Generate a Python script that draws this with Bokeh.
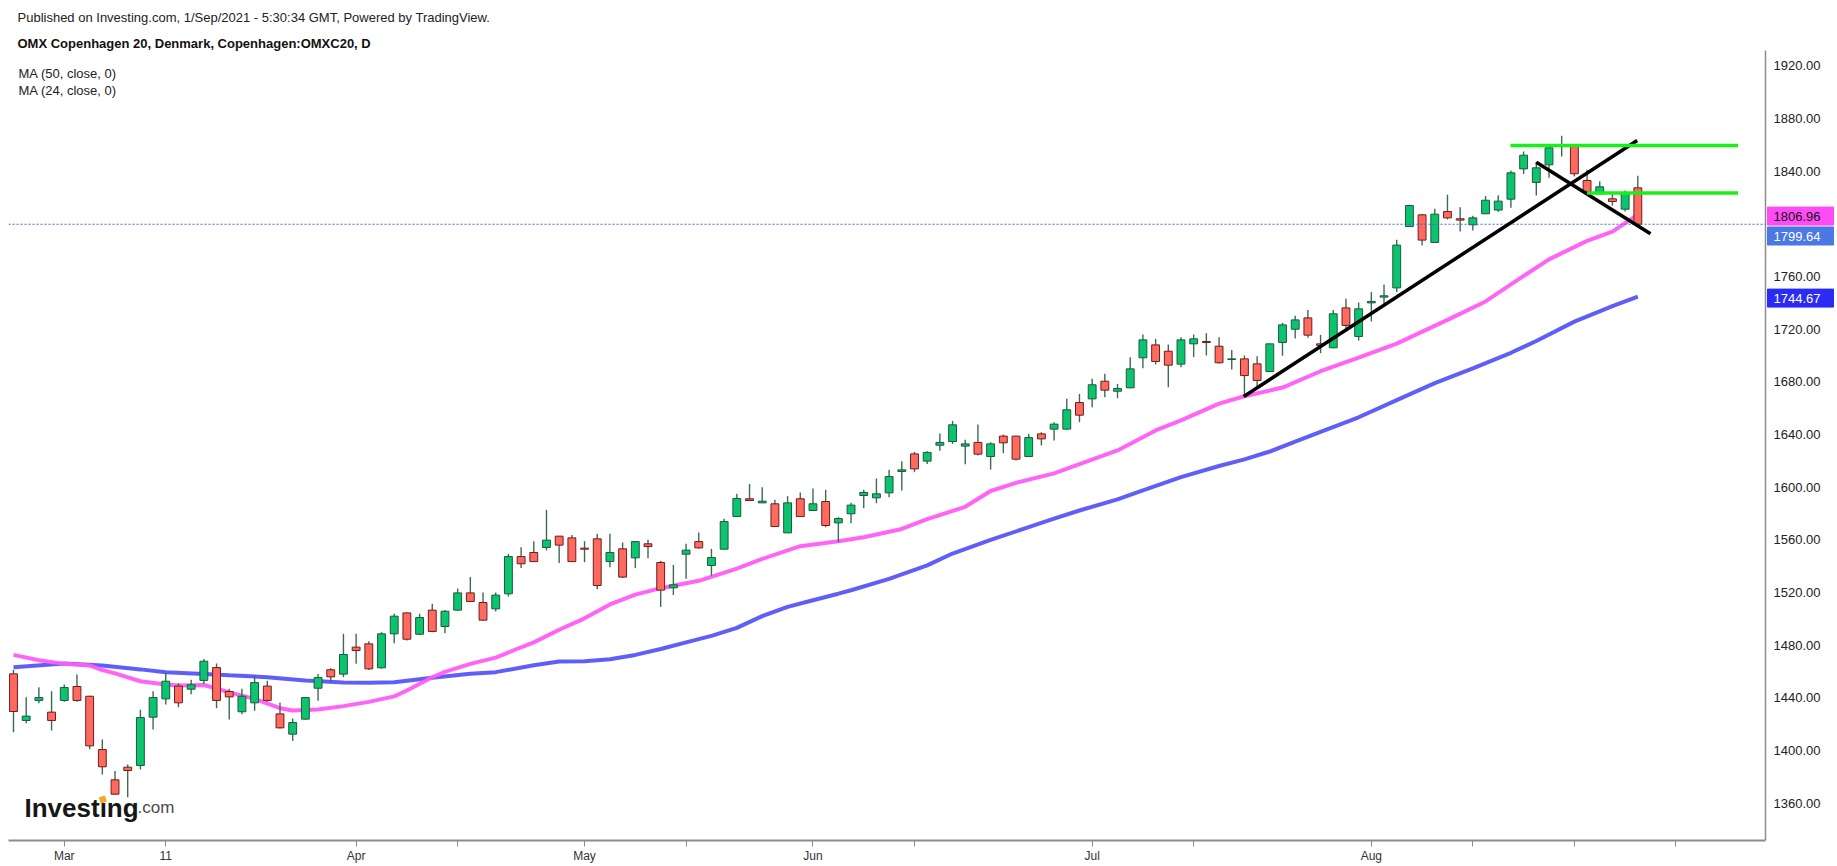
from bokeh.plotting import figure
from bokeh.models import Range1d, FixedTicker, NumeralTickFormatter, ColumnDataSource
from bokeh.core.properties import value
from bokeh.embed import file_html
from bokeh.resources import INLINE

# ---------------- data ----------------
opens = [1458.1, 1422.7, 1437.9, 1429.0, 1437.9, 1448.5, 1441.1, 1400.6, 1377.6, 1387.2,
         1388.5, 1425.2, 1439.1, 1448.8, 1446.5, 1453.1, 1462.9, 1444.7, 1429.3, 1436.1,
         1448.8, 1427.7, 1412.3, 1423.7, 1447.2, 1461.2, 1457.9, 1478.4, 1480.9, 1462.7,
         1488.5, 1504.4, 1488.2, 1506.5, 1494.1, 1506.5, 1519.6, 1512.3, 1507.5, 1518.9,
         1547.2, 1550.3, 1554.1, 1562.7, 1561.4, 1553.6, 1560.7, 1543.4, 1553.1, 1546.2,
         1556.9, 1542.7, 1523.5, 1549.0, 1558.6, 1540.4, 1552.8, 1577.6, 1591.1, 1588.0,
         1587.3, 1565.2, 1591.1, 1582.2, 1589.0, 1572.8, 1579.7, 1593.6, 1591.8, 1595.6,
         1611.8, 1625.2, 1619.7, 1631.8, 1634.6, 1631.1, 1633.9, 1623.2, 1638.7, 1638.7,
         1623.2, 1640.4, 1644.0, 1644.0, 1664.2, 1667.0, 1680.4, 1672.8, 1675.4, 1698.2,
         1708.0, 1703.2, 1693.4, 1708.8, 1710.6, 1707.0, 1696.9, 1697.4, 1693.6, 1687.8,
         1709.8, 1719.9, 1728.5, 1708.8, 1705.8, 1736.1, 1714.4, 1739.9, 1744.3, 1751.3,
         1797.9, 1806.8, 1785.8, 1809.3, 1803.8, 1799.2, 1807.6, 1810.4, 1818.7, 1841.7,
         1831.4, 1844.8, 1859.2, 1859.7, 1832.9, 1822.8, 1819.0, 1811.1, 1827.3]
highs = [1461.2, 1440.4, 1448.0, 1444.9, 1450.0, 1457.6, 1441.5, 1408.2, 1384.4, 1389.2,
         1430.8, 1444.9, 1459.1, 1451.0, 1453.6, 1469.3, 1466.0, 1446.7, 1446.7, 1456.6,
         1452.8, 1436.3, 1424.2, 1440.5, 1457.9, 1462.4, 1488.5, 1488.5, 1482.9, 1489.8,
         1503.7, 1504.8, 1503.7, 1511.3, 1506.7, 1522.9, 1531.6, 1519.9, 1519.9, 1549.3,
         1554.3, 1558.9, 1582.7, 1562.9, 1563.5, 1558.9, 1564.5, 1564.5, 1557.9, 1558.9,
         1559.9, 1543.9, 1540.9, 1556.9, 1565.5, 1553.1, 1575.9, 1594.9, 1602.4, 1599.9,
         1590.3, 1593.1, 1595.9, 1598.9, 1597.9, 1577.1, 1588.0, 1597.9, 1606.5, 1613.1,
         1619.7, 1626.8, 1627.3, 1640.7, 1650.3, 1635.9, 1647.5, 1634.1, 1639.9, 1638.9,
         1640.4, 1641.7, 1649.3, 1667.0, 1670.8, 1682.2, 1686.0, 1678.4, 1698.7, 1715.9,
         1712.6, 1708.3, 1713.9, 1715.9, 1716.9, 1713.9, 1704.2, 1700.0, 1699.4, 1709.0,
         1724.8, 1730.1, 1734.6, 1715.6, 1734.6, 1743.0, 1740.2, 1748.1, 1753.9, 1787.8,
         1814.4, 1807.6, 1811.4, 1822.0, 1812.6, 1806.1, 1821.2, 1821.7, 1840.5, 1854.9,
         1846.8, 1858.7, 1866.8, 1860.5, 1841.0, 1832.4, 1823.5, 1825.3, 1836.4]
lows = [1413.8, 1420.6, 1435.8, 1415.1, 1437.0, 1437.0, 1400.9, 1381.6, 1366.0, 1364.4,
        1385.4, 1415.8, 1434.8, 1432.8, 1442.7, 1450.5, 1432.0, 1423.4, 1427.5, 1430.0,
        1437.0, 1416.5, 1407.2, 1423.3, 1437.6, 1451.8, 1455.6, 1465.7, 1461.0, 1462.0,
        1481.4, 1483.4, 1487.8, 1489.8, 1489.0, 1506.0, 1512.8, 1498.5, 1505.5, 1516.9,
        1538.6, 1543.0, 1551.8, 1542.4, 1543.0, 1542.9, 1522.4, 1539.1, 1531.0, 1538.4,
        1546.0, 1509.0, 1518.0, 1530.3, 1553.1, 1532.8, 1552.5, 1577.3, 1589.5, 1587.8,
        1569.8, 1565.0, 1577.3, 1582.0, 1569.5, 1558.1, 1572.6, 1584.0, 1587.8, 1592.3,
        1597.4, 1611.3, 1617.6, 1627.5, 1632.8, 1617.4, 1624.0, 1613.3, 1625.7, 1620.2,
        1623.0, 1631.6, 1635.4, 1643.8, 1649.3, 1660.7, 1668.3, 1667.5, 1675.0, 1690.3,
        1693.1, 1675.9, 1691.1, 1698.7, 1700.0, 1693.9, 1689.3, 1668.3, 1675.4, 1687.5,
        1699.7, 1712.8, 1713.4, 1701.7, 1705.5, 1717.7, 1711.3, 1725.8, 1739.2, 1748.1,
        1797.7, 1783.5, 1785.5, 1803.3, 1794.1, 1794.9, 1807.4, 1809.1, 1812.1, 1837.9,
        1821.5, 1834.9, 1851.1, 1835.9, 1823.3, 1822.5, 1813.9, 1809.3, 1799.6]
closes = [1429.5, 1426.0, 1440.1, 1422.7, 1447.7, 1437.9, 1403.4, 1387.5, 1366.7, 1384.7,
          1424.9, 1440.1, 1452.5, 1436.1, 1449.8, 1467.7, 1437.9, 1440.6, 1441.1, 1451.5,
          1437.9, 1417.1, 1421.1, 1440.1, 1455.3, 1455.8, 1472.8, 1475.8, 1461.9, 1488.5,
          1501.9, 1484.4, 1500.9, 1490.3, 1505.7, 1519.6, 1513.1, 1498.9, 1517.9, 1547.2,
          1541.7, 1543.4, 1559.7, 1555.9, 1543.4, 1552.8, 1525.2, 1550.3, 1531.6, 1558.6,
          1554.8, 1521.7, 1525.7, 1552.1, 1553.8, 1546.5, 1573.8, 1591.3, 1589.8, 1589.3,
          1570.0, 1588.0, 1577.6, 1587.3, 1570.8, 1576.1, 1586.3, 1595.9, 1594.9, 1608.0,
          1613.1, 1613.8, 1626.3, 1633.9, 1647.3, 1632.8, 1625.0, 1632.8, 1633.6, 1621.2,
          1637.6, 1636.6, 1647.8, 1658.7, 1654.6, 1677.7, 1673.6, 1674.9, 1689.8, 1711.8,
          1695.4, 1692.6, 1711.8, 1712.6, 1709.8, 1694.4, 1697.4, 1684.7, 1681.0, 1708.8,
          1723.2, 1727.0, 1715.4, 1707.6, 1731.6, 1722.8, 1735.4, 1741.0, 1745.3, 1783.8,
          1813.9, 1787.6, 1807.3, 1804.5, 1802.8, 1804.5, 1817.9, 1817.2, 1838.7, 1852.1,
          1842.5, 1857.7, 1860.0, 1838.0, 1824.3, 1828.1, 1816.9, 1823.5, 1799.64]

ma50_bar = [0, 4, 7, 10, 12, 15, 17, 20, 23, 26, 28, 30, 33, 36, 38, 41, 43, 45, 47, 49,
            51, 53, 55, 57, 59, 61, 63, 65, 66, 69, 72, 74, 77, 80, 82, 84, 87, 89, 92, 95,
            97, 99, 101, 103, 106, 109, 112, 115, 118, 120, 123, 126, 128]
ma50_val = [1463.2, 1466.0, 1464.4, 1461.5, 1459.4, 1458.0, 1457.0, 1455.6, 1453.0, 1451.5,
            1451.3, 1451.8, 1455.1, 1458.1, 1459.4, 1464.6, 1467.5, 1467.6, 1469.2, 1472.5,
            1477.0, 1482.0, 1487.0, 1493.0, 1502.0, 1509.0, 1514.0, 1519.0, 1521.6, 1530.3,
            1540.5, 1549.5, 1559.9, 1569.5, 1576.0, 1582.2, 1590.6, 1597.5, 1607.5, 1616.0,
            1621.0, 1627.0, 1634.5, 1642.0, 1653.0, 1666.0, 1679.0, 1690.2, 1702.0, 1711.0,
            1725.7, 1737.5, 1744.67]
ma24_bar = [0, 2, 4, 6, 7, 8, 10, 12, 13, 15, 16, 17, 19, 21, 22, 24, 26, 28, 30, 31,
            33, 34, 36, 38, 40, 41, 43, 45, 47, 49, 51, 54, 57, 59, 62, 65, 67, 70, 72, 75,
            77, 79, 82, 84, 87, 90, 92, 95, 97, 100, 103, 106, 109, 113, 116, 118, 121, 124,
            126, 128]
ma24_val = [1472.5, 1468.5, 1465.7, 1464.5, 1461.0, 1458.5, 1452.5, 1450.0, 1449.3, 1449.6,
            1447.0, 1444.0, 1439.1, 1432.0, 1430.3, 1431.0, 1433.6, 1436.8, 1441.0, 1445.5,
            1455.5, 1459.6, 1465.7, 1470.4, 1478.3, 1482.0, 1491.6, 1500.3, 1510.8, 1518.3,
            1523.2, 1528.8, 1538.0, 1545.4, 1555.1, 1558.8, 1561.9, 1568.2, 1575.7, 1585.0,
            1597.0, 1603.2, 1610.4, 1617.5, 1627.8, 1643.0, 1650.7, 1663.4, 1669.0, 1675.6,
            1688.0, 1698.4, 1709.0, 1727.0, 1741.0, 1754.0, 1773.0, 1787.0, 1794.0, 1806.96]

# drawings (trend lines / levels): start bar, start price, end bar, end price
black_lines = [(96.95, 1668.8, 127.95, 1863.3), (120.0, 1846.8, 129.0, 1792.4)]
green_levels = [(117.96, 135.9, 1859.5), (124.0, 135.9, 1823.3)]

x_tick_pos = [4, 12, 27, 35, 45, 53, 63, 71, 85, 93, 107, 115, 123, 131]
x_tick_labels = ["Mar", "11", "Apr", "", "May", "", "Jun", "", "Jul", "", "Aug", "", "", ""]
y_ticks = [1360, 1400, 1440, 1480, 1520, 1560, 1600, 1640, 1680, 1720, 1760, 1840, 1880, 1920]

last_close = 1799.64
ma24_last = 1806.96
ma50_last = 1744.67

# ---------------- geometry (page pixels) ----------------
LEFT, TOP = 8, 8
FW, FH = 1826, 832
PXB = 12.69      # pixels per bar
PXP = 1.3164     # pixels per index point
X0 = -0.394
X1 = X0 + FW / PXB
Y1 = 1360 + (802.5 - TOP) / PXP
Y0 = Y1 - FH / PXP
SCALE_X = 1765   # page x of the price-scale border


def sx(px):
    return X0 + (px - LEFT) / PXB


def sy(py):
    return Y1 - (py - TOP) / PXP


FONT = "Liberation Sans"

p = figure(frame_width=FW, frame_height=FH, x_range=Range1d(X0, X1), y_range=Range1d(Y0, Y1),
           y_axis_location="right", output_backend="svg", toolbar_location=None,
           min_border_left=LEFT, min_border_top=TOP, min_border_right=0, min_border_bottom=24,
           background_fill_color="white", border_fill_color="white", outline_line_color=None)
p.grid.visible = False

# x axis (time scale), ends at the price scale border
p.xaxis.ticker = FixedTicker(ticks=x_tick_pos)
p.xaxis.major_label_overrides = {t: l for t, l in zip(x_tick_pos, x_tick_labels)}
p.xaxis.bounds = (X0, sx(SCALE_X))
p.xaxis.minor_tick_line_color = None
p.xaxis.axis_line_color = "#8c8c8c"
p.xaxis.axis_line_width = 2
p.xaxis.major_tick_line_color = "#8c8c8c"
p.xaxis.major_tick_out = 6
p.xaxis.major_tick_in = 0
p.xaxis.major_label_standoff = 2
p.xaxis.major_label_text_font = FONT
p.xaxis.major_label_text_font_size = "12px"
p.xaxis.major_label_text_color = "#333333"

# y axis (price scale): labels drawn back inside the scale area
p.yaxis.ticker = FixedTicker(ticks=y_ticks)
p.yaxis.formatter = NumeralTickFormatter(format="0.00")
p.yaxis.minor_tick_line_color = None
p.yaxis.axis_line_color = None
p.yaxis.major_tick_line_color = None
p.yaxis.major_tick_out = 0
p.yaxis.major_tick_in = 0
p.yaxis.major_label_standoff = (SCALE_X + 8) - (LEFT + FW)
p.yaxis.major_label_text_font = FONT
p.yaxis.major_label_text_font_size = "13px"
p.yaxis.major_label_text_color = "#222222"

# price scale border line
p.segment(x0=[sx(SCALE_X)], y0=[sy(50)], x1=[sx(SCALE_X)], y1=[Y0], line_color="#8c8c8c",
          line_width=1.5)

# moving averages
p.line(ma50_bar, ma50_val, line_color="#5656f8", line_width=4, line_alpha=0.95)
p.line(ma24_bar, ma24_val, line_color="#ff5cf6", line_width=4, line_alpha=0.95)

# candles
n = len(closes)
up = [c >= o for o, c in zip(opens, closes)]
src = ColumnDataSource(dict(
    x=list(range(n)),
    top=[max(o, c) for o, c in zip(opens, closes)],
    bot=[min(o, c) for o, c in zip(opens, closes)],
    high=highs, low=lows,
    fill=["#0bc46f" if u else "#ff6a5f" for u in up],
    edge=["#1f5a3b" if u else "#6e1d1d" for u in up],
))
p.segment(x0="x", y0="low", x1="x", y1="high", source=src, line_color="#3c6b54", line_width=1.4)
p.vbar(x="x", width=0.62, top="top", bottom="bot", fill_color="fill", line_color="edge",
       line_width=1, source=src)

# last price dotted line (up to the price scale)
p.line([X0, sx(SCALE_X)], [last_close, last_close], line_color="#3d63e6", line_dash="2 2",
       line_width=1)

# drawings
for x0, y0, x1, y1 in black_lines:
    p.line([x0, x1], [y0, y1], line_color="black", line_width=3.5)
for x0, x1, yv in green_levels:
    p.line([x0, x1], [yv, yv], line_color="#19f019", line_width=3.5)

# header texts
p.text(x=[sx(17)], y=[sy(16.5)],
       text=["Published on Investing.com, 1/Sep/2021 - 5:30:34 GMT, Powered by TradingView."],
       text_font=value(FONT), text_font_size=value("13px"), text_color="#222222",
       text_baseline="middle", text_align="left")
p.text(x=[sx(17)], y=[sy(43)], text=["OMX Copenhagen 20, Denmark, Copenhagen:OMXC20, D"],
       text_font=value(FONT), text_font_size=value("13px"), text_font_style="bold",
       text_color="#111111", text_baseline="middle", text_align="left")
p.text(x=[sx(18), sx(18)], y=[sy(73), sy(90)], text=["MA (50, close, 0)", "MA (24, close, 0)"],
       text_font=value(FONT), text_font_size=value("13px"), text_color="#222222",
       text_baseline="middle", text_align="left")

# watermark logo
p.text(x=[sx(24)], y=[sy(807)], text=["Investing"], text_font=value(FONT),
       text_font_size=value("26px"), text_font_style="bold", text_color="#161616",
       text_baseline="alphabetic", text_align="left")
p.text(x=[sx(137)], y=[sy(807)], text=[".com"], text_font=value(FONT),
       text_font_size=value("17px"), text_color="#4a4a4a",
       text_baseline="alphabetic", text_align="left")
p.scatter(x=[sx(102.3)], y=[sy(799)], marker="square", size=5.5, angle=0.3,
          fill_color="#f5a623", line_color="#f5a623")

# price badges on the scale
badge_vals = [ma24_last, last_close, ma50_last]
badge_py = [215.6, 235.5, 297.6]
badge_bg = ["#ff4bf5", "#4a78e4", "#2b2bf5"]
badge_fg = ["#111111", "#ffffff", "#ffffff"]
by = [sy(v) for v in badge_py]
p.rect(x=[sx(SCALE_X + 35)] * 3, y=by, width=66, height=18, width_units="screen",
       height_units="screen", fill_color=badge_bg, line_color=badge_bg)
p.text(x=[sx(SCALE_X + 8)] * 3, y=by, text=[f"{v:.2f}" for v in badge_vals],
       text_font=value(FONT), text_font_size=value("13px"), text_color=badge_fg,
       text_baseline="middle", text_align="left")

open("out.html", "w").write(file_html(p, INLINE))
